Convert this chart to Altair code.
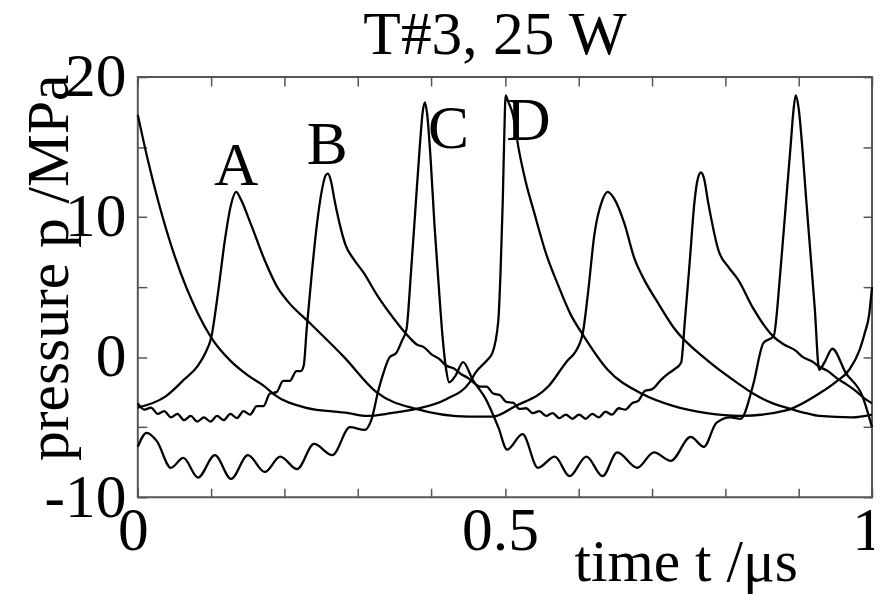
import altair as alt
import pandas as pd

FONT = "Liberation Serif"

# Curve A
T_A = [0.000, 0.038, 0.063, 0.082, 0.092, 0.100, 0.109, 0.119, 0.127, 0.134, 0.140, 0.154, 0.173,
       0.190, 0.204, 0.235, 0.281, 0.325, 0.379, 0.451, 0.483, 0.514, 0.559, 0.586, 0.595, 0.606,
       0.613, 0.622, 0.632, 0.640, 0.649, 0.663, 0.676, 0.690, 0.707, 0.730, 0.775, 0.821, 0.838,
       0.865, 0.883, 0.910, 0.928, 0.973, 1.000]
P_A = [-3.6, -2.8, -1.6, -0.6, 0.3, 1.4, 4.5, 8.5, 10.9, 11.8, 11.3, 9.5, 6.9,
       5.0, 4.0, 2.4, 0.0, -2.5, -3.7, -4.25, -4.25, -3.5, -2.1, -0.2, 0.3, 1.7,
       4.5, 8.8, 11.1, 11.8, 11.3, 9.5, 7.1, 5.5, 4.0, 2.1, -0.2, -2.0, -2.6,
       -3.3, -3.6, -4.0, -4.2, -4.3, -4.1]

# Curve B
T_B = [0.000, 0.009, 0.018, 0.027, 0.036, 0.045, 0.054, 0.063, 0.072, 0.081, 0.090, 0.099, 0.108,
       0.117, 0.126, 0.135, 0.144, 0.153, 0.162, 0.171, 0.180, 0.189, 0.198, 0.207, 0.216, 0.222,
       0.226, 0.230, 0.237, 0.244, 0.251, 0.256, 0.259, 0.263, 0.268, 0.275, 0.283, 0.294, 0.308,
       0.325, 0.348, 0.370, 0.380, 0.390, 0.400, 0.410, 0.420, 0.430, 0.440, 0.450, 0.457, 0.466,
       0.475, 0.484, 0.493, 0.502, 0.511, 0.520, 0.529, 0.538, 0.547, 0.556, 0.565, 0.574, 0.583,
       0.592, 0.601, 0.610, 0.619, 0.628, 0.637, 0.646, 0.655, 0.664, 0.673, 0.682, 0.691, 0.700,
       0.713, 0.722, 0.730, 0.740, 0.745, 0.752, 0.758, 0.763, 0.767, 0.771, 0.777, 0.791, 0.805,
       0.818, 0.838, 0.865, 0.880, 0.895, 0.906, 0.918, 0.929, 0.940, 0.952, 0.964, 0.975, 0.991,
       1.000]
P_B = [-3.3, -3.75, -3.6, -4.05, -3.85, -4.3, -4.05, -4.5, -4.2, -4.6, -4.3, -4.6, -4.2,
       -4.5, -4.05, -4.35, -3.85, -4.1, -3.5, -3.5, -2.6, -2.5, -1.7, -1.7, -1.0, -1.0,
       -0.6, 2.0, 6.0, 9.5, 12.0, 13.0, 13.1, 12.6, 11.2, 9.5, 8.0, 7.0, 6.0,
       4.5, 2.8, 1.4, 0.9, 0.7, 0.2, -0.1, -0.6, -0.8, -1.2, -1.5, -1.8, -2.1,
       -2.1, -2.6, -2.7, -3.2, -3.25, -3.7, -3.65, -4.0, -3.85, -4.2, -4.0, -4.35, -4.1,
       -4.4, -4.1, -4.4, -4.05, -4.3, -3.9, -4.1, -3.65, -3.75, -3.3, -3.1, -2.4, -2.3,
       -1.6, -1.2, -0.9, -0.4, 2.5, 7.0, 11.0, 12.8, 13.2, 12.8, 11.0, 7.6, 6.4,
       5.5, 3.5, 1.5, 0.9, 0.5, 0.0, -0.3, -0.7, -1.0, -1.5, -1.9, -2.3, -3.0,
       -3.3]

# Curve C
T_C = [0.000, 0.012, 0.026, 0.045, 0.062, 0.082, 0.105, 0.127, 0.150, 0.173, 0.194, 0.217, 0.240,
       0.265, 0.289, 0.309, 0.318, 0.328, 0.336, 0.343, 0.352, 0.360, 0.366, 0.372, 0.378, 0.384,
       0.388, 0.391, 0.394, 0.399, 0.404, 0.410, 0.415, 0.420, 0.424, 0.433, 0.443, 0.456, 0.474,
       0.491, 0.503, 0.524, 0.545, 0.568, 0.588, 0.611, 0.633, 0.653, 0.680, 0.703, 0.726, 0.753,
       0.771, 0.788, 0.807, 0.821, 0.838, 0.852, 0.866, 0.875, 0.882, 0.889, 0.893, 0.896, 0.900,
       0.905, 0.910, 0.916, 0.922, 0.928, 0.935, 0.946, 0.964, 0.987, 1.000]
P_C = [-6.4, -5.4, -6.0, -7.9, -7.2, -8.6, -7.0, -8.7, -7.0, -8.2, -7.1, -8.0, -6.2,
       -7.0, -5.0, -5.2, -4.5, -2.3, -0.9, 0.0, 0.3, 1.2, 2.0, 6.0, 10.5, 15.0,
       17.5, 18.2, 17.4, 14.0, 9.5, 5.0, 1.5, -0.9, -1.8, -1.3, -0.35, -1.6, -3.0,
       -5.0, -6.6, -5.5, -7.9, -7.1, -8.5, -7.1, -8.5, -6.8, -7.9, -6.8, -7.4, -5.7,
       -6.4, -4.7, -4.3, -4.4, -2.0, 1.0, 1.5, 6.0, 10.5, 15.0, 17.6, 18.7, 17.8,
       15.0, 11.5, 7.5, 3.5, -0.9, -0.4, 0.6, -1.1, -2.8, -5.0]

# Curve D
T_D = [0.000, 0.014, 0.028, 0.051, 0.082, 0.100, 0.127, 0.150, 0.173, 0.184, 0.228, 0.287, 0.312,
       0.345, 0.379, 0.420, 0.452, 0.460, 0.476, 0.483, 0.491, 0.494, 0.497, 0.499, 0.501, 0.504,
       0.511, 0.519, 0.528, 0.540, 0.556, 0.572, 0.590, 0.605, 0.640, 0.686, 0.730, 0.775, 0.821,
       0.883, 0.928, 0.950, 0.969, 0.983, 0.990, 0.996, 1.000]
P_D = [17.3, 14.0, 11.1, 7.1, 3.1, 1.4, -0.3, -1.3, -2.1, -2.6, -3.6, -4.0, -4.2,
       -4.0, -3.7, -3.0, -1.8, -1.1, -0.2, 0.3, 2.6, 6.0, 11.0, 15.5, 18.7, 18.3,
       17.3, 14.8, 12.6, 10.3, 7.4, 5.2, 3.0, 1.7, -0.9, -2.6, -3.5, -4.0, -4.2,
       -3.8, -2.6, -1.8, -0.9, 0.5, 1.7, 3.0, 5.0]

LABELS = ["A", "B", "C", "D"]
LABEL_T = [0.134, 0.258, 0.423, 0.532]
LABEL_P = [12.3, 13.8, 14.9, 15.5]

X_TICKS = [0, 0.1, 0.2, 0.3, 0.4, 0.5, 0.6, 0.7, 0.8, 0.9, 1]
Y_TICKS = [-10, -5, 0, 5, 10, 15, 20]

rows = []
for name, ts, ps in [("A", T_A, P_A), ("B", T_B, P_B), ("C", T_C, P_C), ("D", T_D, P_D)]:
    for t, p in zip(ts, ps):
        rows.append({"curve": name, "t": t, "p": p})
df = pd.DataFrame(rows)
lab_df = pd.DataFrame({"label": LABELS, "t": LABEL_T, "p": LABEL_P})

xscale = alt.Scale(domain=[0, 1], nice=False, zero=False)
yscale = alt.Scale(domain=[-10, 20], nice=False, zero=False)

x_label_expr = "datum.value == 0 ? '0' : (datum.value == 0.5 ? '0.5' : (datum.value == 1 ? '1' : ''))"
y_label_expr = "datum.value % 10 == 0 ? toString(datum.value) : ''"

lines = alt.Chart(df).mark_line(color="black", strokeWidth=2.3, interpolate="monotone").encode(
    x=alt.X("t:Q", scale=xscale,
            axis=alt.Axis(orient="bottom", values=X_TICKS, offset=-9, tickSize=9,
                          labelExpr=x_label_expr, labelPadding=4, labelBaseline="top",
                          labelOffset=-5,
                          title="time t /μs", titleX=553, titleY=93, titleAlign="center",
                          titleBaseline="alphabetic")),
    y=alt.Y("p:Q", scale=yscale,
            axis=alt.Axis(orient="left", values=Y_TICKS, offset=-9, tickSize=9,
                          labelExpr=y_label_expr, labelPadding=12, labelBaseline="middle",
                          title="pressure p /MPa", titleX=-80, titleY=192, titleAlign="center",
                          titleBaseline="alphabetic")),
    detail="curve:N",
)

texts = alt.Chart(lab_df).mark_text(font=FONT, fontSize=62, baseline="alphabetic",
                                    align="center", color="black").encode(
    x=alt.X("t:Q", scale=xscale,
            axis=alt.Axis(orient="top", values=X_TICKS, offset=-9, tickSize=9,
                          labels=False, title=None)),
    y=alt.Y("p:Q", scale=yscale,
            axis=alt.Axis(orient="right", values=Y_TICKS, offset=-9, tickSize=9,
                          labels=False, title=None)),
    text="label:N",
)

chart = alt.layer(lines, texts).resolve_axis(x="independent", y="independent").properties(
    width=741,
    height=424,
    title=alt.TitleParams("T#3, 25 W", font=FONT, fontSize=62, fontWeight="normal",
                          color="black", anchor="middle", frame="group", dx=-10, offset=-21),
    autosize=alt.AutoSizeParams(type="none"),
    padding={"left": 131, "top": 67, "right": 2, "bottom": 95},
).configure_view(
    stroke="#555555", strokeWidth=2
).configure_axis(
    domain=False, grid=False, tickColor="#555555", tickWidth=1.5,
    labelFont=FONT, labelFontSize=62, labelColor="black",
    titleFont=FONT, titleFontSize=60, titleFontWeight="normal", titleColor="black",
    labelFlush=False, labelOverlap=False,
)

chart.save("out.html", embed_options={"renderer": "svg", "actions": False})
